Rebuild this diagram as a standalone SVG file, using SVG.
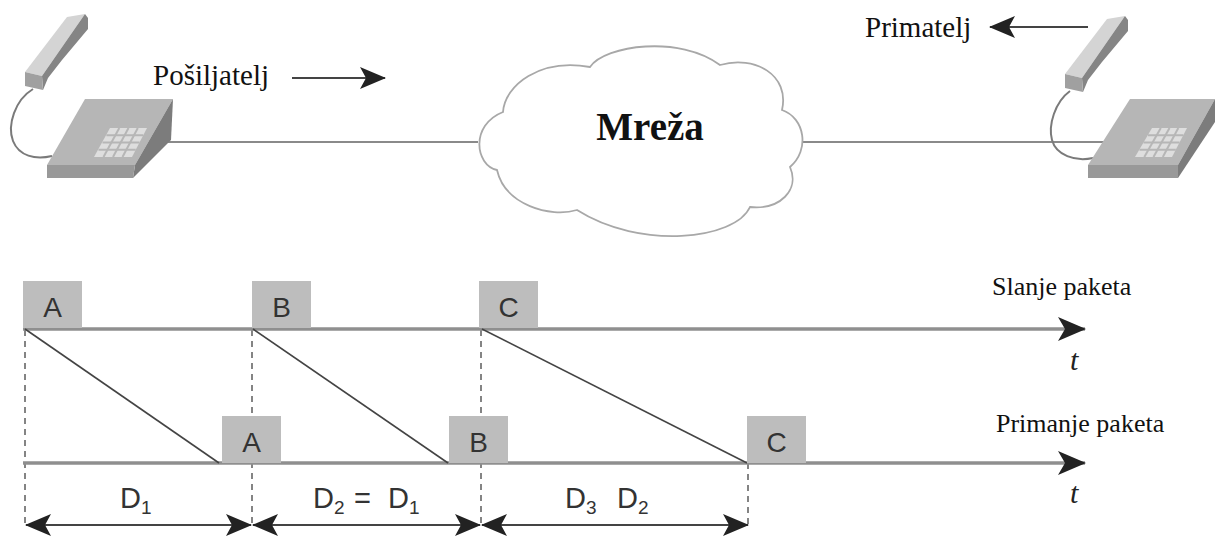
<svg xmlns="http://www.w3.org/2000/svg" width="1217" height="536" viewBox="0 0 1217 536">
<style>
.hdr{font-family:"Liberation Serif","Times New Roman",serif;font-size:29px;fill:#111}
.tl{font-family:"Liberation Serif","Times New Roman",serif;font-size:26px;fill:#111}
.t{font-family:"Liberation Serif","Times New Roman",serif;font-size:30px;font-style:italic;fill:#222}
.box{fill:#bdbdbd}
.bl{font-family:"Liberation Sans",Arial,sans-serif;font-size:28px;fill:#333;text-anchor:middle}
.dl{font-family:"Liberation Sans",Arial,sans-serif;font-size:29px;fill:#333}
.sub{font-size:19px}
.axis{stroke:#8f8f8f;stroke-width:3.5;fill:none}
.diag{stroke:#444;stroke-width:1.6;fill:none}
.dash{stroke:#666;stroke-width:1.6;stroke-dasharray:6 5;fill:none}
.dim{stroke:#444;stroke-width:2;fill:none}
.wire{stroke:#8a8a8a;stroke-width:2.2;fill:none}
.cord{stroke:#7a7a7a;stroke-width:2;fill:none}
</style>
<defs>
<marker id="ah" viewBox="0 0 28 24" refX="27" refY="12" markerWidth="28" markerHeight="24" markerUnits="userSpaceOnUse" orient="auto-start-reverse">
<path d="M0,0 L28,12 L0,24 L7,12 Z" fill="#222"/>
</marker>
<marker id="ahs" viewBox="0 0 26 22" refX="25" refY="11" markerWidth="26" markerHeight="22" markerUnits="userSpaceOnUse" orient="auto-start-reverse">
<path d="M0,0 L26,11 L0,22 L6,11 Z" fill="#222"/>
</marker>
<g id="handset">
<polygon points="67,17 85,14 42,76 25,72" fill="#d4d4d4"/>
<polygon points="85,14 88,18 88,29 62,60 48,78 43,90 42,76" fill="#858585"/>
<polygon points="25,72 42,76 43,90 25,86" fill="#a0a0a0"/>
</g>
</defs>
<rect width="1217" height="536" fill="#fff"/>

<g id="connectors">
<line class="wire" x1="168" y1="142" x2="478" y2="142"/>
<line class="wire" x1="802" y1="142" x2="1104" y2="142"/>
<line class="dim" x1="292" y1="78" x2="385" y2="78" marker-end="url(#ahs)"/>
<line class="dim" x1="1088" y1="27" x2="990" y2="27" marker-end="url(#ahs)"/>
</g>

<g id="sender">
<use href="#handset"/>
<path class="cord" d="M33,89 C15,100 7,125 13,141 C19,156 35,160 52,156"/>
<polygon points="85,99 173,99 135,165 47,165" fill="#b6b6b6"/>
<polygon points="173,99 171,140 133,178 135,165" fill="#7c7c7c"/>
<polygon points="47,165 135,165 133,178 47,178" fill="#999"/>
<polygon points="110,128 147,128 132,157 94,157" fill="#dedede"/>
<g stroke="#b6b6b6" stroke-width="2">
<line x1="119.3" y1="128" x2="103.5" y2="157"/><line x1="128.5" y1="128" x2="113" y2="157"/><line x1="137.8" y1="128" x2="122.5" y2="157"/>
<line x1="106.4" y1="135.3" x2="143.2" y2="135.3"/><line x1="102.5" y1="142.5" x2="139.5" y2="142.5"/><line x1="98.5" y1="149.8" x2="135.7" y2="149.8"/>
</g>
<text class="hdr" x="153" y="85">Pošiljatelj</text>
</g>

<g id="network">
<path d="M503,112 C505,85 540,58 590,67 C605,45 680,35 720,65 C755,55 790,75 782,110 C805,118 810,150 790,167 C800,190 780,210 750,207 C735,240 640,250 577,210 C550,218 505,205 497,170 C475,165 470,125 503,112 Z" fill="#fff" stroke="#a8a8a8" stroke-width="1.8"/>
<text x="650" y="140" text-anchor="middle" font-family="'Liberation Serif','Times New Roman',serif" font-size="39" font-weight="bold" fill="#111">Mreža</text>
</g>

<g id="receiver">
<path class="cord" d="M1070,91 C1055,102 1048,125 1052,140 C1056,155 1075,162 1093,158"/>
<use href="#handset" transform="translate(1040,2)"/>
<polygon points="1130,99 1215,99 1178,165 1088,165" fill="#b6b6b6"/>
<polygon points="1215,99 1215,122 1178,178 1178,165" fill="#7c7c7c"/>
<polygon points="1088,165 1178,165 1178,178 1088,178" fill="#999"/>
<polygon points="1152,128 1187,128 1172,157 1135,157" fill="#dedede"/>
<g stroke="#b6b6b6" stroke-width="2">
<line x1="1160.8" y1="128" x2="1144.3" y2="157"/><line x1="1169.5" y1="128" x2="1153.5" y2="157"/><line x1="1178.3" y1="128" x2="1162.8" y2="157"/>
<line x1="1148" y1="135.3" x2="1183.3" y2="135.3"/><line x1="1143.5" y1="142.5" x2="1179.5" y2="142.5"/><line x1="1139.5" y1="149.8" x2="1175.8" y2="149.8"/>
</g>
<text class="hdr" x="865" y="37">Primatelj</text>
</g>

<g id="timeline-lines">
<line class="dash" x1="25" y1="330" x2="25" y2="527"/>
<line class="dash" x1="252" y1="330" x2="252" y2="527"/>
<line class="dash" x1="481" y1="330" x2="481" y2="527"/>
<line class="dash" x1="748" y1="463" x2="748" y2="527"/>
<line class="axis" x1="23" y1="329" x2="1085" y2="329" marker-end="url(#ah)"/>
<line class="axis" x1="23" y1="463" x2="1085" y2="463" marker-end="url(#ah)"/>
<line class="diag" x1="25" y1="329" x2="219" y2="463"/>
<line class="diag" x1="253" y1="329" x2="448" y2="463"/>
<line class="diag" x1="482" y1="329" x2="747" y2="463"/>
<line class="dim" x1="26" y1="525" x2="251" y2="525" marker-start="url(#ahs)" marker-end="url(#ahs)"/>
<line class="dim" x1="253" y1="525" x2="480" y2="525" marker-start="url(#ahs)" marker-end="url(#ahs)"/>
<line class="dim" x1="482" y1="525" x2="748" y2="525" marker-start="url(#ahs)" marker-end="url(#ahs)"/>
</g>

<g id="send-A"><rect class="box" x="23" y="281" width="59" height="47"/><text class="bl" x="52.5" y="317">A</text></g>
<g id="send-B"><rect class="box" x="252" y="281" width="59" height="47"/><text class="bl" x="281.5" y="317">B</text></g>
<g id="send-C"><rect class="box" x="479" y="281" width="59" height="47"/><text class="bl" x="508.5" y="317">C</text></g>
<g id="recv-A"><rect class="box" x="222" y="416" width="59" height="47"/><text class="bl" x="251.5" y="452">A</text></g>
<g id="recv-B"><rect class="box" x="449" y="416" width="59" height="47"/><text class="bl" x="478.5" y="452">B</text></g>
<g id="recv-C"><rect class="box" x="747" y="416" width="59" height="47"/><text class="bl" x="776.5" y="452">C</text></g>

<g id="labels">
<text class="tl" x="992" y="295">Slanje paketa</text>
<text class="tl" x="996" y="432">Primanje paketa</text>
<text class="t" x="1070" y="370">t</text>
<text class="t" x="1070" y="503">t</text>
<text class="dl" x="120" y="508">D<tspan class="sub" dy="6">1</tspan></text>
<text class="dl" x="313" y="508">D<tspan class="sub" dy="6">2</tspan><tspan x="354" dy="-6">=</tspan><tspan x="388">D</tspan><tspan class="sub" dy="6">1</tspan></text>
<text class="dl" x="565" y="508">D<tspan class="sub" dy="6">3 </tspan><tspan x="617" dy="-6">D</tspan><tspan class="sub" dy="6">2</tspan></text>
</g>
</svg>
